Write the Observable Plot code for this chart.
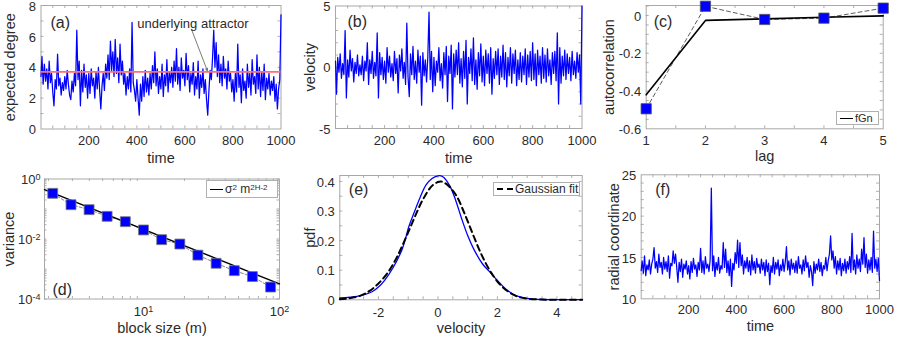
<!DOCTYPE html>
<html><head><meta charset="utf-8">
<script src="https://cdn.jsdelivr.net/npm/d3@7"></script>
<script src="https://cdn.jsdelivr.net/npm/@observablehq/plot@0.6"></script>
<style>
body{margin:0;background:#fff;}
#fig{position:relative;width:899px;height:338px;overflow:hidden;background:#fff;font-family:"Liberation Sans",Arial,Helvetica,sans-serif;color:#2b2b2b;}
#fig svg{position:absolute;overflow:visible;background:transparent !important;}
#fig svg, #fig svg *{font-family:"Liberation Sans",Arial,Helvetica,sans-serif !important;font-weight:normal;}
.leg{position:absolute;box-sizing:border-box;border:1px solid #b0b0b0;background:#fff;font-size:12px;display:flex;align-items:center;padding-left:3px;line-height:1;white-space:nowrap;}
.ln{display:inline-block;width:13px;border-top:1.6px solid #000;margin-right:2px;}
.dl{display:inline-block;width:16px;height:0;border-top:2px dashed #000;margin-right:2px;}
.leg sup{font-size:8px;position:relative;top:-1px;}
</style></head><body><div id="fig"></div>
<script>
// ---------------- data ----------------
// time axis of the sampled series (a), (b), (f)
const timeSteps = d3.range(0, 1001, 5).map(t => (t === 0 ? 1 : t));
// (a) expected degree
const degree = [
3.4,4.7,2.9,4.2,3.1,3.9,2.6,4.4,3.0,3.6,
2.4,1.5,3.2,2.6,4.85,2.8,3.3,2.2,3.0,2.5,
3.4,2.6,3.8,2.9,2.2,1.9,3.1,2.4,3.6,2.8,
6.4,3.2,4.4,1.5,3.8,2.4,4.2,2.7,3.5,2.0,
3.6,2.3,3.9,2.8,3.3,2.0,3.7,2.6,4.0,2.5,
1.3,2.8,3.6,2.5,4.2,3.3,4.8,3.2,5.7,3.8,
5.0,3.4,5.8,3.6,4.6,3.0,5.5,3.5,4.4,2.9,
3.6,2.2,3.4,2.6,3.9,2.4,6.9,3.0,2.5,1.8,
3.2,2.0,0.9,2.9,1.8,3.4,2.1,3.8,2.4,3.3,
2.2,3.6,2.6,4.1,3.0,5.0,2.8,3.9,2.3,3.4,
2.6,4.2,2.1,3.5,2.8,4.5,2.4,3.7,3.0,4.0,
2.7,4.4,3.1,5.2,2.9,4.0,2.5,4.6,3.3,3.8,
2.8,4.9,3.2,4.1,2.4,3.6,2.9,4.3,2.2,3.4,
2.6,4.4,2.0,3.5,2.7,3.9,2.3,3.2,1.9,0.9,
2.5,3.8,3.2,4.6,6.4,4.0,5.6,3.4,4.8,3.0,
4.2,2.8,4.7,3.3,3.9,2.6,4.4,3.1,3.6,2.4,
3.2,1.8,3.6,2.4,5.5,2.7,3.5,1.7,3.9,2.5,
3.1,2.0,4.2,2.7,3.6,2.2,4.5,2.9,3.4,2.3,
4.8,2.6,4.0,2.1,3.7,2.5,4.2,1.9,3.3,2.6,
3.6,2.2,3.1,2.5,3.4,1.8,2.9,1.3,2.6,3.2,
7.4];
const attractor = [3.7];
// (b) velocity
const velocity = [
0.5,-2.2,0.8,-0.4,1.1,-0.9,0.3,-0.6,3.0,-2.5,
0.6,-0.8,1.4,-0.3,0.7,-1.2,0.4,-0.5,1.0,-0.7,
0.2,-0.6,0.9,-1.1,0.5,-0.3,2.0,-1.4,0.6,-0.5,
1.3,-0.9,0.4,-0.7,2.8,-2.5,1.2,-0.6,0.8,-1.0,
0.5,-1.3,1.6,-0.4,0.9,-0.8,0.3,-1.1,1.3,-0.5,
0.7,-2.1,1.0,-0.3,1.5,-0.9,0.4,-1.4,3.6,-0.8,
-2.4,1.1,-0.6,1.7,-1.0,0.5,-1.3,1.4,-0.4,0.9,
-3.1,1.2,-0.7,0.6,-1.2,0.8,4.5,-1.0,1.3,-2.0,
0.8,-1.5,0.5,-0.4,1.6,-1.1,0.3,-1.7,1.2,-0.6,
1.7,-2.8,0.9,-0.5,1.8,-3.4,1.1,-0.8,1.4,-0.6,
2.0,-1.3,0.7,-1.6,1.3,-0.9,2.2,-3.0,0.8,-0.5,
1.5,-1.1,2.4,-1.4,0.6,-1.8,1.2,-0.7,1.9,-1.2,
0.9,-1.5,1.4,-0.5,1.1,-1.3,1.6,-2.2,0.7,-0.9,
1.3,-0.6,1.5,-1.4,0.9,-0.8,1.8,-1.0,1.2,-1.6,
0.8,-0.7,1.6,-1.3,1.1,-0.5,1.4,-1.5,0.6,-1.0,
1.2,-1.2,0.9,-0.6,1.5,-1.4,1.0,-0.8,1.3,-1.1,
2.0,-1.0,1.1,-1.5,1.4,-0.6,0.9,-1.3,1.6,-0.9,
1.0,-1.2,1.5,-0.7,0.6,-1.4,1.2,-0.5,1.3,-1.1,
2.8,-3.0,1.6,-1.3,0.9,-0.7,1.4,-1.0,1.1,-0.5,
0.8,-1.1,1.3,-0.6,0.5,-0.9,1.2,-0.4,1.0,-3.0,
5.0];
// (c) autocorrelation
const lags = [1, 2, 3, 4, 5];
const acfData = [-0.494, 0.049, -0.021, -0.014, 0.039];
const acfFGN = [-0.42, -0.026, -0.018, -0.009, -0.002];
// (d) variance vs block size
const blockM = [2.15, 2.93, 3.98, 5.4, 7.35, 10, 13.6, 18.5, 25.1, 34.2, 46.5, 63.2, 86];
const blockVar = [0.333, 0.139, 0.095, 0.057, 0.0378, 0.020, 0.0095, 0.0068, 0.0029, 0.00155, 0.00088, 0.00056, 0.00025];
const fitM = [1.87, 100];
const fitVar = [0.44, 0.00032];
// (e) pdf of velocity
const pdfV = [-3.3,-3.0,-2.5,-2.2,-2.0,-1.8,-1.5,-1.2,-0.97,-0.8,-0.6,-0.4,-0.2,0,0.1,0.2,0.4,0.6,0.8,1.0,1.2,1.5,1.8,2.0,2.3,2.6,3.0,3.5,4.0,4.85];
const pdfP = [0.006,0.008,0.017,0.028,0.043,0.065,0.11,0.172,0.25,0.295,0.346,0.388,0.41,0.419,0.419,0.413,0.385,0.335,0.273,0.217,0.172,0.121,0.088,0.065,0.035,0.015,0.005,0.001,0.0005,0.0003];
const gaussV = [-3.3,-3.0,-2.6,-2.3,-2.0,-1.7,-1.4,-1.1,-0.8,-0.5,-0.2,0,0.1,0.3,0.6,0.9,1.2,1.5,1.8,2.1,2.4,2.7,3.0,3.5,4.0,4.85];
const gaussP = [0.002,0.005,0.014,0.03,0.055,0.09,0.14,0.205,0.275,0.34,0.385,0.398,0.400,0.39,0.355,0.29,0.215,0.145,0.09,0.05,0.025,0.01,0.004,0.001,0,0];
// (f) radial coordinate
const radial = [
13.4,14.6,13.1,15.2,12.8,14.1,13.5,14.7,13.0,14.2,
14.8,16.2,13.7,14.5,13.2,15.4,13.8,14.4,13.0,15.0,
13.6,14.5,13.3,15.2,12.5,14.3,14.0,15.8,14.3,15.4,
13.8,12.0,14.4,13.3,14.8,12.6,14.2,13.6,14.6,13.0,
14.0,12.4,14.5,13.2,14.9,13.6,14.1,12.7,14.4,13.5,
16.1,13.2,14.6,13.0,15.1,13.7,14.2,13.3,14.7,23.4,
13.4,15.2,12.7,14.4,13.5,15.0,13.1,14.0,13.6,16.8,
13.8,16.0,13.2,14.6,12.8,14.8,11.5,14.3,13.5,15.6,
14.3,17.1,13.8,16.8,14.0,15.3,13.0,14.6,13.7,15.0,
13.3,14.6,12.9,15.3,13.5,14.5,13.1,14.9,13.8,14.2,
13.1,14.8,13.5,14.4,12.8,14.7,13.3,14.3,11.7,14.0,
13.2,15.0,13.0,14.4,13.6,14.7,12.8,14.1,13.4,14.8,
13.3,14.5,16.3,13.5,14.6,12.9,14.8,13.6,14.3,13.2,
14.6,13.1,15.1,13.7,14.1,13.0,14.7,13.4,15.2,13.8,
14.4,12.6,14.0,13.3,11.6,14.5,13.1,14.2,13.5,14.8,
13.3,14.4,12.8,14.0,13.6,15.0,13.4,14.6,15.4,17.6,
14.7,15.8,13.7,15.1,13.0,14.6,13.5,14.9,12.8,14.3,
13.4,14.8,13.1,14.5,13.6,15.1,13.2,17.9,13.5,14.7,
13.0,15.3,13.7,14.8,13.3,16.0,14.2,17.4,13.8,15.4,
13.1,14.7,13.5,15.0,13.2,18.2,13.7,14.8,13.3,14.9,
12.2];
// tick values
const timeTicks = [200, 400, 600, 800, 1000];
const timeMinor = d3.range(50, 1000, 50);
const degTicks = [0, 2, 4, 6, 8];
const velTicks = [-5, 0, 5];
const acfTicks = [-0.6, -0.4, -0.2, 0];
const lagTicks = [1, 2, 3, 4, 5];
const varTicks = [1, 0.01, 0.0001];
const mTicks = [10, 100];
const pdfTicks = [0, 0.1, 0.2, 0.3, 0.4];
const pdfVelTicks = [-2, 0, 2, 4];
const radTicks = [10, 15, 20, 25];

// ---------------- drawing ----------------
const fig = document.getElementById("fig");
const BLUE = "#0000ff", FRAME = "#a8a8a8", TICK = "#9a9a9a";
const FONT = "Liberation Sans, Arial, Helvetica, sans-serif";
const style = {fontFamily: FONT, fontSize: "13px", color: "#2b2b2b", background: "transparent", overflow: "visible"};
function put(svg, x, y) { svg.style.left = x + "px"; svg.style.top = y + "px"; fig.appendChild(svg); }
function inTicks(xs, ys, W, H, len = 3) {
  return [
    Plot.tickX(xs, {x: d => d, insetTop: H - len, stroke: TICK, strokeWidth: 0.8}),
    Plot.tickX(xs, {x: d => d, insetBottom: H - len, stroke: TICK, strokeWidth: 0.8}),
    Plot.tickY(ys, {y: d => d, insetRight: W - len, stroke: TICK, strokeWidth: 0.8}),
    Plot.tickY(ys, {y: d => d, insetLeft: W - len, stroke: TICK, strokeWidth: 0.8})
  ];
}
const fmt = d => String(+d.toFixed(2));
function label(txt, anchor, dx, dy, size = 14.5, rotate = 0) {
  return Plot.text([txt], {text: d => d, frameAnchor: anchor, dx, dy, rotate, fontSize: size, lineAnchor: "middle", textAnchor: "middle"});
}
function panelLabel(txt, anchor, dx, dy) {
  return Plot.text([txt], {text: d => d, frameAnchor: anchor, dx, dy, fontSize: 16, textAnchor: "start", lineAnchor: anchor.startsWith("top") ? "top" : "bottom"});
}
const xAx = (ticks, pad, fmtf = fmt) => Plot.axisX(ticks, {tickSize: 0, tickPadding: pad, fontSize: 13, label: null, tickFormat: fmtf});
const yAx = (ticks, pad, fmtf = fmt) => Plot.axisY(ticks, {tickSize: 0, tickPadding: pad, fontSize: 13, label: null, tickFormat: fmtf, dy: 1});
const SW = 1.25;

// (a)
{
  const data = timeSteps.map((t, i) => ({t, v: degree[i]}));
  const m = {l: 40.5, r: 19.5, t: 5, b: 41.5}, W = 300, H = 170;
  put(Plot.plot({
    width: W, height: H, marginLeft: m.l, marginRight: m.r, marginTop: m.t, marginBottom: m.b,
    x: {domain: [1, 1000]}, y: {domain: [0, 8]}, style,
    marks: [
      ...inTicks(timeMinor, d3.range(1, 8), W - m.l - m.r, H - m.t - m.b),
      Plot.frame({stroke: FRAME}),
      Plot.line(data, {x: "t", y: "v", stroke: BLUE, strokeWidth: SW}),
      Plot.ruleY(attractor, {stroke: "#ff6f6f", strokeWidth: 1.6}),
      xAx(timeTicks, 7),
      yAx(degTicks, 5),
      Plot.text(["underlying attractor"], {text: d => d, x: 402, y: 6.83, textAnchor: "start", fontSize: 13}),
      Plot.arrow([0], {x1: 628, y1: 6.43, x2: 693, y2: 3.79, stroke: "#222", strokeWidth: 0.6, headLength: 6}),
      panelLabel("(a)", "top-left", 9.5, 11),
      label("expected degree", "left", -30.5, 0, 14.5, -90),
      label("time", "bottom", 0, 29.5)
    ]
  }), 0, 0);
}
// (b)
{
  const data = timeSteps.map((t, i) => ({t, v: velocity[i]}));
  const m = {l: 35, r: 18.5, t: 5.5, b: 42}, W = 300, H = 170;
  put(Plot.plot({
    width: W, height: H, marginLeft: m.l, marginRight: m.r, marginTop: m.t, marginBottom: m.b,
    x: {domain: [1, 1000]}, y: {domain: [-5, 5]}, style,
    marks: [
      ...inTicks(timeMinor, d3.range(-4, 5), W - m.l - m.r, H - m.t - m.b),
      Plot.frame({stroke: FRAME}),
      Plot.line(data, {x: "t", y: "v", stroke: BLUE, strokeWidth: SW}),
      xAx(timeTicks, 7),
      yAx(velTicks, 5),
      panelLabel("(b)", "top-left", 12, 10),
      label("velocity", "left", -24.7, 0, 14.5, -90),
      label("time", "bottom", 0, 30)
    ]
  }), 300, 0);
}
// (c)
{
  const data = lags.map((l, i) => ({l, d: acfData[i], f: acfFGN[i]}));
  const m = {l: 45.7, r: 16.3, t: 5, b: 41.7}, W = 299, H = 170;
  put(Plot.plot({
    width: W, height: H, marginLeft: m.l, marginRight: m.r, marginTop: m.t, marginBottom: m.b,
    x: {domain: [1, 5]}, y: {domain: [-0.6, 0.053]}, style,
    marks: [
      ...inTicks(d3.range(1.5, 5, 0.5), d3.range(-0.55, 0.05, 0.05), W - m.l - m.r, H - m.t - m.b),
      Plot.frame({stroke: FRAME}),
      Plot.line(data, {x: "l", y: "d", stroke: "#333", strokeWidth: 0.8, strokeDasharray: "4,3"}),
      Plot.line(data, {x: "l", y: "f", stroke: "#000", strokeWidth: 1.6}),
      Plot.dot(data, {x: "l", y: "d", symbol: "square", r: 5.8, fill: BLUE, stroke: "#555", strokeWidth: 0.8}),
      xAx(lagTicks, 7),
      yAx(acfTicks, 5),
      panelLabel("(c)", "top-left", 7.5, 10),
      label("autocorrelation", "left", -36.7, 0, 14.5, -90),
      label("lag", "bottom", 0, 28)
    ]
  }), 600, 0);
}
// (d)
{
  const data = blockM.map((x, i) => ({x, v: blockVar[i]}));
  const fit = fitM.map((x, i) => ({x, v: fitVar[i]}));
  const m = {l: 44, r: 21, t: 8.5, b: 39.5}, W = 300, H = 168;
  const xMinor = [2,3,4,5,6,7,8,9,20,30,40,50,60,70,80,90];
  const yMinor = [];
  for (const e of [-4, -3, -2, -1]) for (const k of [1,2,3,4,5,6,7,8,9]) yMinor.push(k * Math.pow(10, e));
  yMinor.push(1);
  const sup = d => "10^" + Math.round(Math.log10(d));
  const svg = Plot.plot({
    width: W, height: H, marginLeft: m.l, marginRight: m.r, marginTop: m.t, marginBottom: m.b,
    x: {type: "log", domain: [1.87, 100]}, y: {type: "log", domain: [0.0001, 1]}, style,
    marks: [
      ...inTicks(xMinor, yMinor, W - m.l - m.r, H - m.t - m.b, 2.5),
      Plot.frame({stroke: FRAME}),
      Plot.line(data, {x: "x", y: "v", stroke: "#666", strokeWidth: 0.8, strokeDasharray: "3,2"}),
      Plot.line(fit, {x: "x", y: "v", stroke: "#000", strokeWidth: 1.4}),
      Plot.dot(data, {x: "x", y: "v", symbol: "square", r: 5.6, fill: BLUE, stroke: "#777", strokeWidth: 0.8}),
      xAx(mTicks, 8, sup),
      yAx(varTicks, 4, sup),
      panelLabel("(d)", "bottom-left", 8, -4),
      label("variance", "left", -35, 0, 14.5, -90),
      label("block size (m)", "bottom", 0, 29.5)
    ]
  });
  svg.querySelectorAll("text").forEach(t => {
    const s = t.textContent;
    if (s.startsWith("10^")) {
      t.textContent = "10";
      const ts = document.createElementNS("http://www.w3.org/2000/svg", "tspan");
      ts.setAttribute("font-size", "9");
      ts.setAttribute("dy", "-0.45em");
      ts.textContent = s.slice(3);
      t.appendChild(ts);
    }
  });
  put(svg, 0, 170);
}
// (e)
{
  const emp = pdfV.map((v, i) => ({v, p: pdfP[i]}));
  const gau = gaussV.map((v, i) => ({v, p: gaussP[i]}));
  const m = {l: 39.3, r: 18.3, t: 5, b: 38.7}, W = 300, H = 168;
  put(Plot.plot({
    width: W, height: H, marginLeft: m.l, marginRight: m.r, marginTop: m.t, marginBottom: m.b,
    x: {domain: [-3.3, 4.85]}, y: {domain: [0, 0.42]}, style,
    marks: [
      ...inTicks(d3.range(-3, 5, 0.5), d3.range(0.05, 0.42, 0.05), W - m.l - m.r, H - m.t - m.b),
      Plot.frame({stroke: FRAME}),
      Plot.line(emp, {x: "v", y: "p", stroke: BLUE, strokeWidth: 1.3, curve: "catmull-rom"}),
      Plot.line(gau, {x: "v", y: "p", stroke: "#000", strokeWidth: 2, strokeDasharray: "6,4", curve: "catmull-rom"}),
      xAx(pdfVelTicks, 8),
      yAx(pdfTicks, 5),
      panelLabel("(e)", "top-left", 9, 8),
      label("pdf", "left", -29, 0, 14.5, -90),
      label("velocity", "bottom", 0, 29)
    ]
  }), 300, 170);
}
// (f)
{
  const data = timeSteps.map((t, i) => ({t, v: radial[i]}));
  const m = {l: 40.7, r: 20, t: 4.3, b: 39.7}, W = 299, H = 168;
  put(Plot.plot({
    width: W, height: H, marginLeft: m.l, marginRight: m.r, marginTop: m.t, marginBottom: m.b,
    x: {domain: [1, 1000]}, y: {domain: [10, 25]}, style,
    marks: [
      ...inTicks(timeMinor, d3.range(11, 25), W - m.l - m.r, H - m.t - m.b),
      Plot.frame({stroke: FRAME}),
      Plot.line(data, {x: "t", y: "v", stroke: BLUE, strokeWidth: SW}),
      xAx(timeTicks, 6),
      yAx(radTicks, 5),
      panelLabel("(f)", "top-left", 14, 9),
      label("radial coordinate", "left", -27, 0, 14.5, -90),
      label("time", "bottom", 0, 28)
    ]
  }), 600, 170);
}
// legends
fig.insertAdjacentHTML("beforeend",
  '<div class="leg" style="left:836px;top:111px;width:43px;height:14px;font-size:11px"><span class="ln"></span>fGn</div>' +
  '<div class="leg" style="left:206px;top:180px;width:72px;height:18px;font-size:12px"><span class="ln"></span>&sigma;<sup>2</sup>&nbsp;m<sup>2H-2</sup></div>' +
  '<div class="leg" style="left:493px;top:182px;width:87px;height:14px;font-size:12px"><span class="dl"></span>Gaussian fit</div>');
</script>
</body></html>
